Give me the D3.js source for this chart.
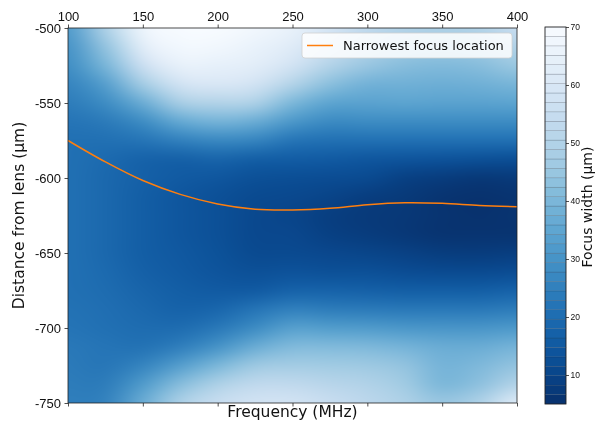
<!DOCTYPE html>
<html>
<head>
<meta charset="utf-8">
<script src="https://cdn.jsdelivr.net/npm/d3@7"></script>
<style>
  body { margin: 0; background: #fff; }
  #chart { position: relative; width: 595px; height: 423px; }
  #chart canvas, #chart svg { position: absolute; left: 0; top: 0; }
  svg { font-family: "DejaVu Sans", sans-serif; }
</style>
</head>
<body>
<div id="chart"></div>
<script>
// frequency columns (MHz) and distance rows (um) of the focus width map
const freqs = [100, 125, 150, 175, 200, 225, 250, 275, 300, 325, 350, 375, 400]
const distances = [-500, -512.5, -525, -537.5, -550, -562.5, -575, -587.5, -600, -612.5, -625,
  -637.5, -650, -662.5, -675, -687.5, -700, -712.5, -725, -737.5, -750]
// focus width (um), one row per distance, one value per frequency
const widths = [
  [32, 49, 67, 70, 70, 68, 65, 59, 53, 50, 49, 50, 55],
  [30, 44, 63, 68.5, 68, 65.5, 62, 55, 49.5, 46.5, 45.5, 46.5, 50],
  [28.5, 39.5, 56, 65, 64.5, 63, 58, 50, 45, 42, 41, 42, 45.5],
  [26, 33, 47, 58, 60, 58, 50, 42.5, 38.5, 38, 37.5, 38, 39.5],
  [24, 28, 37, 48, 50, 49, 40, 34.5, 34, 34.5, 34, 34, 34.5],
  [22, 23.5, 28, 36, 39, 37, 31, 27.5, 28, 28, 28, 28, 28],
  [21, 21, 22, 25, 27, 26, 22, 21, 21, 21, 21, 21, 21],
  [21, 19.5, 17.5, 17, 18, 16.5, 16, 15.5, 14.5, 14, 13.5, 13, 12.5],
  [21, 19, 17, 15.5, 14.5, 13, 12.5, 12, 11.5, 9, 8, 7, 7.5],
  [21, 19, 16.5, 14.5, 13, 11.5, 11, 10, 8.3, 7.4, 6, 5.5, 6],
  [21, 19, 16.5, 14.5, 12.8, 11, 10.3, 8.5, 7.5, 7, 6, 5.5, 6],
  [21, 19, 16.5, 14.5, 13, 11, 10.8, 9, 8, 7, 6, 6, 6],
  [21, 19, 16.5, 15, 13.3, 11.5, 11.5, 10.8, 10.2, 9.2, 8.2, 8, 8.5],
  [21, 19.5, 17, 15.5, 14, 13, 13.5, 13, 12.8, 12, 11.5, 11.5, 12],
  [21, 20, 18, 16.5, 15.5, 15.5, 17.5, 17.5, 17, 16.5, 16.5, 16.5, 17.5],
  [21.5, 20.5, 19, 17.5, 18.5, 22, 25, 24, 23.5, 23, 23, 23, 24],
  [22, 21, 20, 20, 23, 28, 33.5, 32.5, 32, 31, 30.5, 30.5, 31.5],
  [23, 22, 21.5, 24.5, 30, 37, 41, 41, 40.5, 39, 37, 37, 39],
  [23.5, 22.5, 26, 33, 40, 46, 47, 46.5, 46, 44, 39, 40.5, 44],
  [24, 24, 32, 42, 49, 53, 53, 51, 49.5, 46.5, 40, 43, 50],
  [24.5, 25.5, 37, 49, 55, 58, 58, 55, 52, 49, 45, 49, 62]
]
// narrowest focus location (um) at each frequency
const focusFreq = [100, 125, 150, 175, 200, 225, 250, 275, 300, 325, 350, 375, 400]
const focusLoc = [-575, -589.3, -601.7, -610.9, -617.3, -620.8, -621.3, -620.2, -617.8, -616.5, -616.9, -618.3, -619.1]

const xTicks = [100, 150, 200, 250, 300, 350, 400]
const yTicks = [-500, -550, -600, -650, -700, -750]
const cbarTicks = [10, 20, 30, 40, 50, 60, 70]
const cbarMin = 5, cbarMax = 70, nLevels = 40

const W = 595, H = 423
const plot = {left: 68, right: 517, top: 28, bottom: 403}
const cbar = {left: 545, right: 566, top: 27, bottom: 404}

var x = d3.scaleLinear().domain([100, 400]).range([plot.left, plot.right])
var y = d3.scaleLinear().domain([-500, -750]).range([plot.top, plot.bottom])
var color = d3.scaleSequential(t => d3.interpolateBlues(1 - t)).domain([cbarMin, cbarMax])

var chart = d3.select("#chart")

// heatmap: one pixel per grid value, scaled up with smoothing
var canvas = chart.append("canvas").attr("width", W).attr("height", H).node()
var ctx = canvas.getContext("2d")
var small = document.createElement("canvas")
small.width = freqs.length
small.height = distances.length
var sctx = small.getContext("2d")
var img = sctx.createImageData(freqs.length, distances.length)
widths.forEach(function(row, j) {
  row.forEach(function(v, i) {
    var c = d3.rgb(color(v))
    var k = (j * freqs.length + i) * 4
    img.data[k] = c.r
    img.data[k + 1] = c.g
    img.data[k + 2] = c.b
    img.data[k + 3] = 255
  })
})
sctx.putImageData(img, 0, 0)
var df = freqs[1] - freqs[0], dd = distances[0] - distances[1]
ctx.save()
ctx.beginPath()
ctx.rect(plot.left, plot.top, plot.right - plot.left, plot.bottom - plot.top)
ctx.clip()
ctx.imageSmoothingEnabled = true
ctx.imageSmoothingQuality = "high"
var x0 = x(freqs[0] - df / 2), x1 = x(freqs[freqs.length - 1] + df / 2)
var y0 = y(distances[0] + dd / 2), y1 = y(distances[distances.length - 1] - dd / 2)
ctx.drawImage(small, x0, y0, x1 - x0, y1 - y0)
ctx.restore()

var svg = chart.append("svg").attr("width", W).attr("height", H)

// narrowest focus line
var line = d3.line()
  .x(function(d, i) { return x(focusFreq[i]) })
  .y(function(d) { return y(d) })
  .curve(d3.curveCatmullRom)
svg.append("path")
  .attr("d", line(focusLoc))
  .attr("fill", "none")
  .attr("stroke", "#ff7f0e")
  .attr("stroke-width", 1.5)

// axes
function styleAxis(g, size) {
  g.select(".domain").remove()
  g.selectAll(".tick line").attr("stroke", "#222").attr("stroke-width", 0.8)
  g.selectAll(".tick text").attr("fill", "#111").style("font-size", size + "px")
}
svg.append("g")
  .attr("transform", "translate(0," + plot.top + ")")
  .call(d3.axisTop(x).tickValues(xTicks).tickSize(3.5).tickPadding(3.5))
  .call(styleAxis, 13)
svg.append("g")
  .attr("transform", "translate(0," + plot.bottom + ")")
  .call(d3.axisBottom(x).tickValues(xTicks).tickFormat("").tickSize(3.5))
  .call(styleAxis, 13)
svg.append("g")
  .attr("transform", "translate(" + plot.left + ",0)")
  .call(d3.axisLeft(y).tickValues(yTicks).tickFormat(d => String(d)).tickSize(3.5).tickPadding(3.5))
  .call(styleAxis, 13)

svg.append("rect")
  .attr("x", plot.left).attr("y", plot.top)
  .attr("width", plot.right - plot.left).attr("height", plot.bottom - plot.top)
  .attr("fill", "none").attr("stroke", "#222").attr("stroke-width", 0.8)

svg.append("text")
  .attr("x", (plot.left + plot.right) / 2).attr("y", 417)
  .attr("text-anchor", "middle").style("font-size", "15.5px").attr("fill", "#111")
  .text("Frequency (MHz)")
svg.append("text")
  .attr("transform", "translate(24," + (plot.top + plot.bottom) / 2 + ") rotate(-90)")
  .attr("text-anchor", "middle").style("font-size", "15.5px").attr("fill", "#111")
  .text("Distance from lens (µm)")

// legend
var lg = svg.append("g")
lg.append("rect")
  .attr("x", 302).attr("y", 33).attr("width", 210).attr("height", 25).attr("rx", 3)
  .attr("fill", "#fff").attr("fill-opacity", 0.85).attr("stroke", "#d0d0d0").attr("stroke-width", 0.8)
lg.append("line")
  .attr("x1", 307).attr("x2", 333).attr("y1", 45.5).attr("y2", 45.5)
  .attr("stroke", "#ff7f0e").attr("stroke-width", 1.5)
lg.append("text")
  .attr("x", 343).attr("y", 50).style("font-size", "13px").attr("fill", "#111")
  .text("Narrowest focus location")

// colorbar
var cy = d3.scaleLinear().domain([cbarMin, cbarMax]).range([cbar.bottom, cbar.top])
var step = (cbarMax - cbarMin) / nLevels
var levels = d3.range(nLevels).map(i => cbarMin + i * step)
svg.append("g").selectAll("rect").data(levels).enter().append("rect")
  .attr("x", cbar.left).attr("width", cbar.right - cbar.left)
  .attr("y", d => cy(d + step))
  .attr("height", d => cy(d) - cy(d + step))
  .attr("fill", d => color(d + step / 2))
  .attr("stroke", "#1d2a3a").attr("stroke-opacity", 0.35).attr("stroke-width", 0.5)
svg.append("rect")
  .attr("x", cbar.left).attr("y", cbar.top)
  .attr("width", cbar.right - cbar.left).attr("height", cbar.bottom - cbar.top)
  .attr("fill", "none").attr("stroke", "#222").attr("stroke-width", 0.8)
svg.append("g")
  .attr("transform", "translate(" + cbar.right + ",0)")
  .call(d3.axisRight(cy).tickValues(cbarTicks).tickSize(3).tickPadding(1.5))
  .call(styleAxis, 8.5)
svg.append("text")
  .attr("transform", "translate(592,207) rotate(-90)")
  .attr("text-anchor", "middle").style("font-size", "14px").attr("fill", "#111")
  .text("Focus width (µm)")
</script>
</body>
</html>
